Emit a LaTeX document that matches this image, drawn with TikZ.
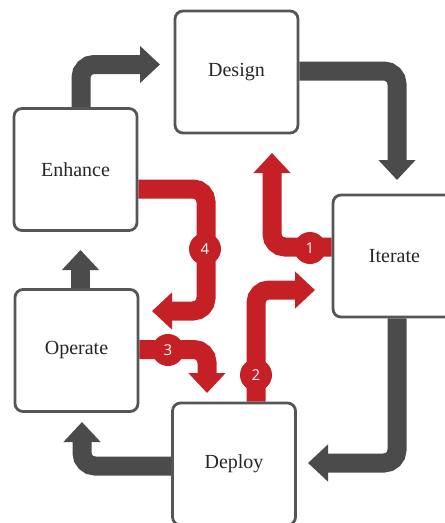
\documentclass[tikz,border=0pt]{standalone}
\usepackage{fontspec}
\setmainfont{Liberation Serif}
\newfontfamily\badgefont{Open Sans}
\usetikzlibrary{arrows.meta,calc}
\definecolor{flowgray}{HTML}{4A4B4A}
\definecolor{edgegray}{HTML}{565656}
\definecolor{flowred}{HTML}{C42026}
\pgfdeclarelayer{bg}
\pgfsetlayers{bg,main}
\begin{document}
\begin{tikzpicture}[x=1pt,y=-1pt,
  stage/.style={draw=edgegray, line width=2.8pt, fill=white, rounded corners=8pt,
    minimum width=123pt, minimum height=122pt, inner sep=0pt,
    font=\fontsize{20}{24}\selectfont, text=black!85},
  band/.style={line width=19pt, rounded corners=13pt,
    -{Triangle[width=36pt,length=20pt]}},
  grayband/.style={band, draw=flowgray},
  redband/.style={band, draw=flowred},
  badge/.style={circle, fill=flowred, minimum size=32pt, inner sep=0pt,
    text=white, font=\badgefont\fontsize{15}{18}\selectfont}]
\clip (0,0) rectangle (445,523);

% the five stages of the cycle
\node[stage] (design)  at (236.5,72)  {Design};
\node[stage] (enhance) at (75.5,169.5) {Enhance};
\node[stage] (iterate) at (394.5,256) {Iterate};
\node[stage] (operate) at (76.5,350.5) {Operate};
\node[stage] (deploy)  at (234,464)   {Deploy};

% arrow tips
\coordinate (t_di) at (397,180);
\coordinate (t_ed) at (160,64.5);
\coordinate (t_id) at (308,463);
\coordinate (t_do) at (82,422);
\coordinate (t_oe) at (80.5,250);
\coordinate (t_r1) at (272,153);
\coordinate (c_r4) at (206,311);
\coordinate (t_r4) at (152,311);
\coordinate (t_r3) at (207,393);
\coordinate (t_r2) at (315,290);

\begin{pgfonlayer}{bg}
  % main cycle
  \draw[grayband] ($(design.east)+(0,-1)$) -| (t_di);
  \draw[grayband] ($(iterate.south)+(2.5,0)$) |- (t_id);
  \draw[grayband] ($(deploy.west)+(0,2)$) -| (t_do);
  \draw[grayband] ($(operate.north)+(4,0)$) -- (t_oe);
  \draw[grayband] ($(enhance.north)+(5.5,0)$) |- (t_ed);
  % numbered feedback paths
  \draw[redband] ($(iterate.west)+(0,-9)$) -| (t_r1);
  \draw[redband] ($(deploy.north)+(22,0)$) |- (t_r2);
  \draw[redband] ($(operate.east)+(0,-1)$) -| (t_r3);
  \draw[redband] ($(enhance.east)+(0,19.5)$) -| (c_r4) -- (t_r4);
\end{pgfonlayer}

\node[badge] (b1) at (310,248) {1};
\node[badge] (b2) at (256,375) {2};
\node[badge] (b3) at (168,350) {3};
\node[badge] (b4) at (205,249) {4};
\end{tikzpicture}
\end{document}
